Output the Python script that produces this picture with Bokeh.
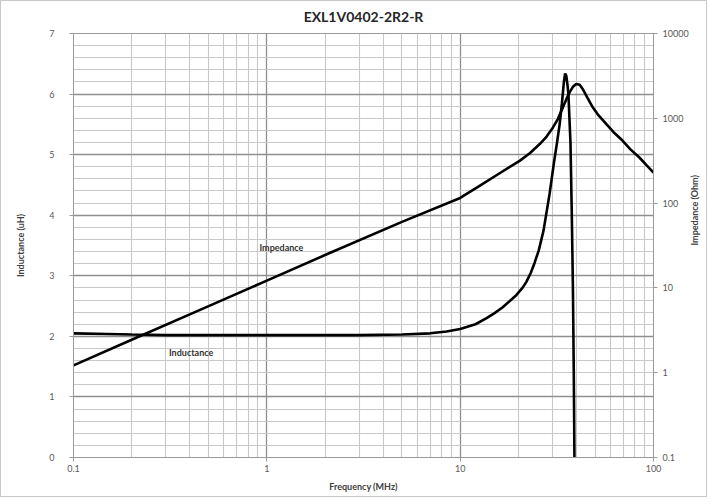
import math
from bokeh.plotting import figure
from bokeh.models import (LogAxis, Range1d, LogScale, FixedTicker, SingleIntervalTicker,
                          CustomJSTickFormatter, Label, InlineStyleSheet)
from bokeh.embed import file_html
from bokeh.resources import INLINE

# ---------------- data ----------------
title_text = "EXL1V0402-2R2-R"
freq_ticks = [0.1, 1, 10, 100]
freq_minor_ticks = [0.2, 0.3, 0.4, 0.5, 0.6, 0.7, 0.8, 0.9,
                    2, 3, 4, 5, 6, 7, 8, 9,
                    20, 30, 40, 50, 60, 70, 80, 90]
imp_ticks = [0.1, 1, 10, 100, 1000, 10000]

freq_L = [0.1, 0.15, 0.2, 0.3, 0.5, 1, 2, 3, 5, 7, 8.5, 10, 12, 13.7, 15, 16.6, 18, 19.5,
          21, 22, 23.2, 24.3, 25.5, 27, 29, 30.5, 31.7, 32.7, 33.6, 34.4, 34.9, 35.4,
          35.9, 36.3, 37.2, 37.8, 38.3, 38.7, 39.0]
inductance_uH = [2.05, 2.04, 2.03, 2.02, 2.02, 2.02, 2.02, 2.02, 2.03, 2.05, 2.08, 2.12, 2.2,
                 2.3, 2.38, 2.48, 2.58, 2.68, 2.8, 2.9, 3.05, 3.22, 3.42, 3.75, 4.35, 4.85,
                 5.2, 5.5, 5.85, 6.2, 6.34, 6.3, 6.15, 6.0, 5.2, 4.0, 2.8, 1.4, 0.0]

freq_Z = [0.1, 0.2, 0.5, 1, 2, 5, 10, 12.6, 16, 20.3, 23, 25.8, 28, 30.2, 32, 34, 35.5,
          36.8, 38.3, 39.8, 41.5, 43, 45.5, 48.5, 52, 56.9, 62, 69.3, 76, 84.5, 92, 100]
impedance_ohm = [1.22, 2.45, 6.1, 12.2, 24.4, 60, 115, 160, 225, 315, 390, 497, 610, 780,
                 980, 1346, 1700, 2023, 2350, 2540, 2480, 2220, 1750, 1346, 1080, 857, 690,
                 543, 430, 345, 280, 229]

# annotation text positions (x in MHz, y in uH)
imp_label_pos = (1.19, 3.46)
ind_label_pos = (0.406, 1.74)

FONT = "Lato"
TICK_COLOR = "#595959"
LABEL_COLOR = "#404040"

p = figure(width=707, height=497, x_axis_type="log", x_range=(0.1, 100), y_range=(0, 7),
           output_backend="svg", toolbar_location=None,
           min_border_left=72, min_border_right=54, min_border_top=32, min_border_bottom=41,
           background_fill_color="white", border_fill_color="white")
p.stylesheets = [InlineStyleSheet(css=":host { border: 1px solid #c8c8c8; }")]
p.outline_line_color = "#9a9a9a"

# title
p.title.text = title_text
p.title.align = "center"
p.title.offset = -11
p.title.standoff = 13
p.title.vertical_align = "top"
p.title.text_font = FONT
p.title.text_font_size = "14px"
p.title.text_font_style = "bold"
p.title.text_color = "#262626"

# x axis
xa = p.xaxis[0]
xa.ticker = FixedTicker(ticks=freq_ticks, minor_ticks=freq_minor_ticks)
xa.formatter = CustomJSTickFormatter(code="return String(Number(tick.toPrecision(6)));")
xa.axis_label = "Frequency (MHz)"
# y axis (left)
ya = p.yaxis[0]
ya.ticker = SingleIntervalTicker(interval=1, num_minor_ticks=5)
ya.axis_label = "Inductance (uH)"

# right axis
p.extra_y_ranges = {"imp": Range1d(0.1, 10000)}
p.extra_y_scales = {"imp": LogScale()}
ra = LogAxis(y_range_name="imp", ticker=FixedTicker(ticks=imp_ticks),
             formatter=CustomJSTickFormatter(code="return String(Number(tick.toPrecision(6)));"),
             axis_label="Impedance (Ohm)")
if "axis_label_orientation" in ra.properties():
    ra.axis_label_orientation = math.pi / 2
p.add_layout(ra, "right")

for ax in [xa, ya, ra]:
    ax.axis_line_color = "#9a9a9a"
    ax.major_tick_line_color = "#9a9a9a"
    ax.major_tick_out = 4
    ax.major_tick_in = 0
    ax.minor_tick_line_color = None
    ax.major_label_text_font = FONT
    ax.major_label_text_font_size = "9px"
    ax.major_label_text_color = TICK_COLOR
    ax.axis_label_text_font = FONT
    ax.axis_label_text_font_size = "9px"
    ax.axis_label_text_font_style = "bold"
    ax.axis_label_text_color = LABEL_COLOR

ya.major_label_standoff = 15
ya.axis_label_standoff = 20
xa.major_label_standoff = 3
xa.axis_label_standoff = 6
ra.major_label_standoff = 5
ra.axis_label_standoff = 3

# grids
p.xgrid.grid_line_color = "#8f8f8f"
p.xgrid.grid_line_width = 1.3
p.xgrid.minor_grid_line_color = "#c8c8c8"
p.xgrid.minor_grid_line_width = 1.1
p.ygrid.grid_line_color = "#8f8f8f"
p.ygrid.grid_line_width = 1.3
p.ygrid.minor_grid_line_color = "#c8c8c8"
p.ygrid.minor_grid_line_width = 1.1

# curves
p.line(freq_Z, impedance_ohm, y_range_name="imp", line_color="black", line_width=2.6)
p.line(freq_L, inductance_uH, line_color="black", line_width=2.6)

# text labels
p.add_layout(Label(x=imp_label_pos[0], y=imp_label_pos[1], text="Impedance",
                   text_font=FONT, text_font_size="9px", text_font_style="bold",
                   text_color="#333333", text_align="center", text_baseline="middle"))
p.add_layout(Label(x=ind_label_pos[0], y=ind_label_pos[1], text="Inductance",
                   text_font=FONT, text_font_size="9px", text_font_style="bold",
                   text_color="#333333", text_align="center", text_baseline="middle"))

open("out.html", "w").write(file_html(p, INLINE))
